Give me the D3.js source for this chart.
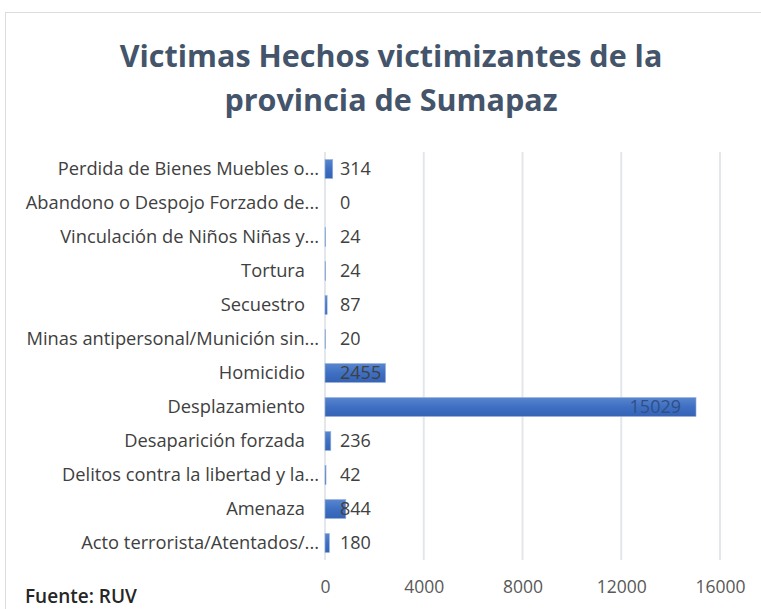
<!DOCTYPE html>
<html>
<head>
<meta charset="utf-8">
<script src="https://cdn.jsdelivr.net/npm/d3@7"></script>
<style>
  body { margin: 0; background: #fff; }
  svg text { font-family: "Open Sans", Lato, sans-serif; }
</style>
</head>
<body>
<div id="container"></div>
<script>
/* CONSTANTS AND GLOBALS */
const width = 761,
  height = 609,
  margin = { top: 152, bottom: 49, left: 325, right: 41 }

/* DATA */
const categories = [
  'Perdida de Bienes Muebles o...',
  'Abandono o Despojo Forzado de...',
  'Vinculación de Niños Niñas y...',
  'Tortura',
  'Secuestro',
  'Minas antipersonal/Munición sin...',
  'Homicidio',
  'Desplazamiento',
  'Desaparición forzada',
  'Delitos contra la libertad y la...',
  'Amenaza',
  'Acto terrorista/Atentados/...'
]
const values = [314, 0, 24, 24, 87, 20, 2455, 15029, 236, 42, 844, 180]
const xTicks = [0, 4000, 8000, 12000, 16000]
const titleLines = ['Victimas Hechos victimizantes de la', 'provincia de Sumapaz']

const data = categories.map((c, i) => ({ name: c, value: values[i] }))

const svg = d3.select('#container')
  .append('svg')
  .attr('width', width)
  .attr('height', height)

// chart frame
svg.append('rect')
  .attr('x', 5.5)
  .attr('y', 12.5)
  .attr('width', width + 10)
  .attr('height', height)
  .attr('fill', 'none')
  .attr('stroke', '#d9dde0')

// + SCALES
const xScale = d3.scaleLinear()
  .domain([0, 16000])
  .range([margin.left, width - margin.right])

const yScale = d3.scaleBand()
  .domain(categories)
  .range([margin.top, height - margin.bottom])
  .paddingInner(0.44)
  .paddingOuter(0.22)

// gridlines
svg.append('g')
  .selectAll('line')
  .data(xTicks)
  .join('line')
  .attr('x1', d => xScale(d))
  .attr('x2', d => xScale(d))
  .attr('y1', margin.top)
  .attr('y2', height - margin.bottom)
  .attr('stroke', '#e3e7ea')
  .attr('stroke-width', 2)

// + AXES
const xAxis = d3.axisBottom(xScale)
  .tickValues(xTicks)
  .tickFormat(d3.format('d'))
  .tickSize(0)
  .tickPadding(21)

svg.append('g')
  .attr('transform', `translate(0, ${height - margin.bottom})`)
  .call(xAxis)
  .call(g => g.select('.domain').remove())
  .call(g => g.selectAll('text')
    .attr('fill', '#595959')
    .style('font-size', '17.5px'))

const yAxis = d3.axisLeft(yScale)
  .tickSize(0)

svg.append('g')
  .attr('transform', `translate(${margin.left}, 0)`)
  .call(yAxis)
  .call(g => g.select('.domain').remove())
  .call(g => g.selectAll('text')
    // truncated labels sit closer to the axis than whole ones
    .attr('x', d => d.endsWith('...') ? -6 : -20)
    .attr('fill', '#404040')
    .style('font-size', '18.3px'))

// bar gradient
const grad = svg.append('defs')
  .append('linearGradient')
  .attr('id', 'barGrad')
  .attr('x1', 0).attr('y1', 0).attr('x2', 0).attr('y2', 1)
grad.append('stop').attr('offset', '0%').attr('stop-color', '#5a86cf')
grad.append('stop').attr('offset', '50%').attr('stop-color', '#3e6fc2')
grad.append('stop').attr('offset', '100%').attr('stop-color', '#3563b5')

// + BARS
svg.append('g')
  .selectAll('rect')
  .data(data)
  .join('rect')
  .attr('x', xScale(0))
  .attr('y', d => yScale(d.name))
  .attr('width', d => xScale(d.value) - xScale(0))
  .attr('height', yScale.bandwidth())
  .attr('fill', 'url(#barGrad)')
  .attr('stroke', d => d.value > 0 ? '#9db5e0' : 'none')
  .attr('stroke-width', 0.6)

// + VALUE LABELS
svg.append('g')
  .selectAll('text')
  .data(data)
  .join('text')
  .attr('x', d => d.value > 10000 ? xScale(d.value) - 15 : xScale(0) + 15)
  .attr('y', d => yScale(d.name) + yScale.bandwidth() / 2)
  .attr('dy', '0.36em')
  .attr('text-anchor', d => d.value > 10000 ? 'end' : 'start')
  .attr('fill', d => d.value > 10000 ? '#2f4f86' : '#404040')
  .style('font-size', '18px')
  .text(d => d.value)

// + TITLE
svg.append('text')
  .attr('x', 391)
  .attr('text-anchor', 'middle')
  .attr('fill', '#44546a')
  .style('font-size', '30.5px')
  .style('font-weight', 'bold')
  .selectAll('tspan')
  .data(titleLines)
  .join('tspan')
  .attr('x', 391)
  .attr('y', (d, i) => 67 + i * 44)
  .text(d => d)

// source note
svg.append('text')
  .attr('x', 25)
  .attr('y', 603)
  .attr('fill', '#262626')
  .style('font-size', '19px')
  .style('font-weight', '600')
  .text('Fuente: RUV')
</script>
</body>
</html>
